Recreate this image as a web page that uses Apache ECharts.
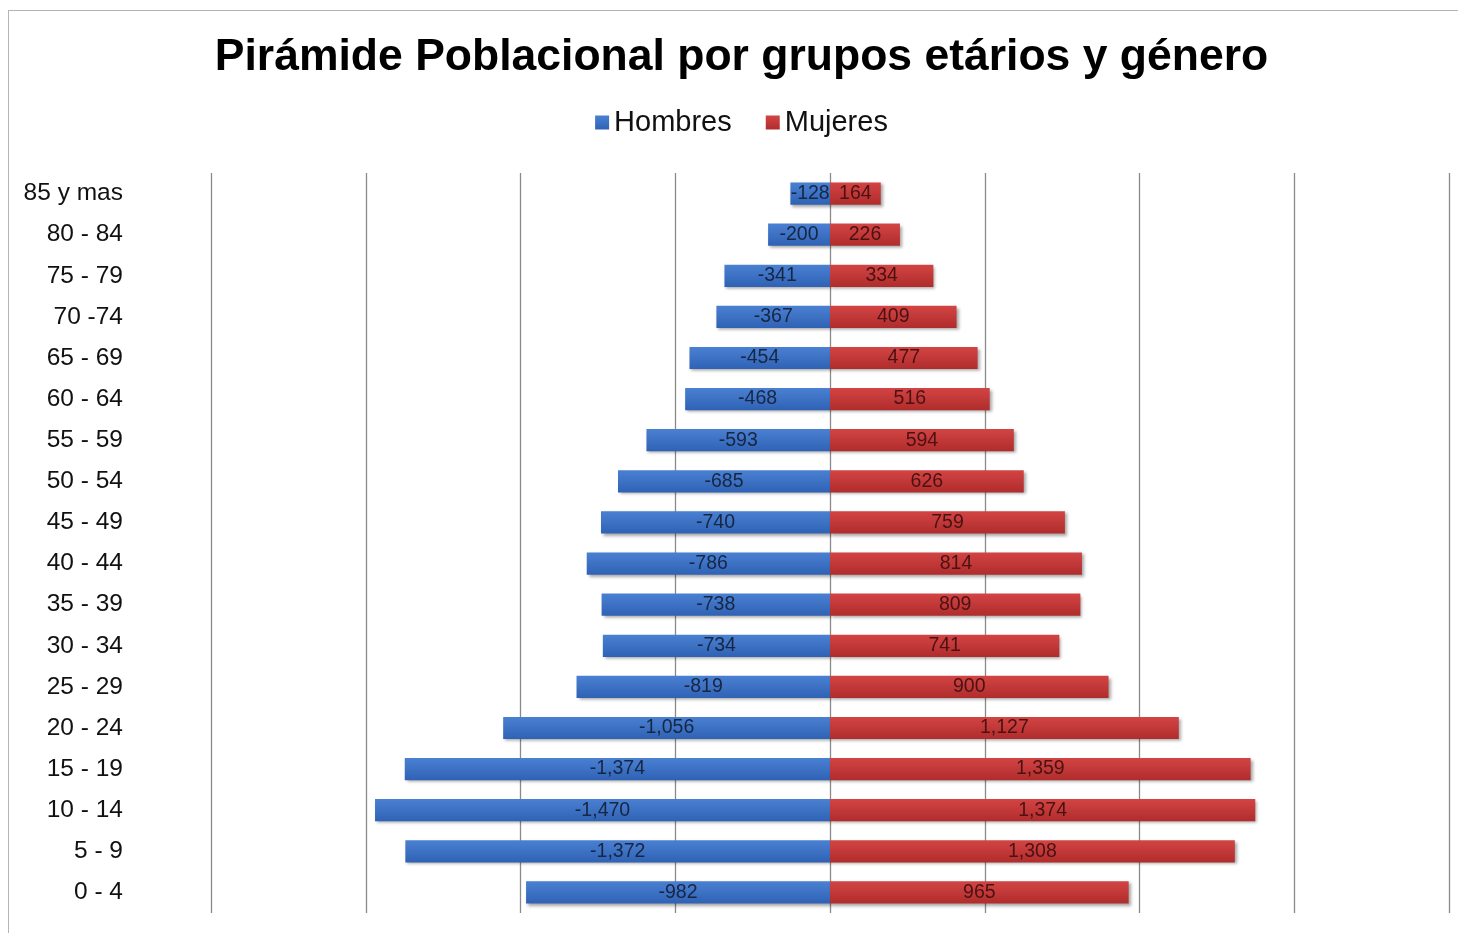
<!DOCTYPE html>
<html>
<head>
<meta charset="utf-8">
<script src="https://cdn.jsdelivr.net/npm/echarts@6/dist/echarts.min.js"></script>
<style>
  html, body { margin: 0; padding: 0; background: #fff; overflow: hidden; width: 1458px; height: 933px; }
  #frame { position: absolute; left: 8px; top: 10px; width: 1466px; height: 940px;
           border-left: 1px solid #b4b4b4; border-top: 1px solid #b4b4b4; box-sizing: border-box; }
  #chart { width: 100%; height: 100%; }
</style>
</head>
<body>
<div id="frame"><div id="chart"></div></div>
<script>
// Age groups, listed from the base of the pyramid upwards
const ageGroups = ['0 - 4', '5 - 9', '10 - 14', '15 - 19', '20 - 24', '25 - 29', '30 - 34',
  '35 - 39', '40 - 44', '45 - 49', '50 - 54', '55 - 59', '60 - 64', '65 - 69', '70 -74',
  '75 - 79', '80 - 84', '85 y mas'];
// Men are stored as negative counts so they extend to the left
const hombres = [-982, -1372, -1470, -1374, -1056, -819, -734, -738, -786, -740, -685, -593,
  -468, -454, -367, -341, -200, -128];
const mujeres = [965, 1308, 1374, 1359, 1127, 900, 741, 809, 814, 759, 626, 594, 516, 477,
  409, 334, 226, 164];

const FONT = '"Liberation Sans", Arial, sans-serif';
const fmt = v => v.toLocaleString('en-US');

const chart = echarts.init(document.getElementById('chart'));
chart.setOption({
  backgroundColor: '#fff',
  animation: false,
  title: {
    text: 'Pirámide Poblacional por grupos etários y género',
    left: 'center', top: 24, padding: 0,
    textStyle: { fontFamily: FONT, fontSize: 44.5, fontWeight: 'bold', color: '#000' }
  },
  legend: {
    data: ['Hombres', 'Mujeres'],
    left: 'center', top: 97, padding: 0,
    itemWidth: 14, itemHeight: 14, itemGap: 34,
    icon: 'rect',
    textStyle: { fontFamily: FONT, fontSize: 29, color: '#111', padding: [0, 0, 0, 0] }
  },
  grid: { left: 202, top: 162, width: 1238, height: 740, containLabel: false },
  xAxis: {
    type: 'value', min: -2000, max: 2000, interval: 500,
    axisLabel: { show: false }, axisTick: { show: false }, axisLine: { show: false },
    splitLine: { show: true, lineStyle: { color: '#8a8a8a', width: 1.3 } }
  },
  yAxis: {
    type: 'category', data: ageGroups,
    axisLine: { show: false }, axisTick: { show: false },
    axisLabel: { margin: 88, fontFamily: FONT, fontSize: 24.5, color: '#111' }
  },
  series: [
    {
      name: 'Hombres', type: 'bar', data: hombres, barWidth: '54%', barGap: '-100%',
      itemStyle: {
        color: new echarts.graphic.LinearGradient(0, 0, 0, 1, [
          { offset: 0, color: '#4a80d2' }, { offset: 1, color: '#2f62b4' }]),
        shadowColor: 'rgba(0,0,0,0.35)', shadowBlur: 3, shadowOffsetX: 2, shadowOffsetY: 2
      },
      label: {
        show: true, position: 'inside', fontFamily: FONT, fontSize: 19.5, color: '#172642',
        formatter: p => fmt(p.value)
      }
    },
    {
      name: 'Mujeres', type: 'bar', data: mujeres, barWidth: '54%',
      itemStyle: {
        color: new echarts.graphic.LinearGradient(0, 0, 0, 1, [
          { offset: 0, color: '#d34444' }, { offset: 1, color: '#b02c2c' }]),
        shadowColor: 'rgba(0,0,0,0.35)', shadowBlur: 3, shadowOffsetX: 2, shadowOffsetY: 2
      },
      label: {
        show: true, position: 'inside', fontFamily: FONT, fontSize: 19.5, color: '#4a1212',
        formatter: p => fmt(p.value)
      }
    }
  ]
});
</script>
</body>
</html>
